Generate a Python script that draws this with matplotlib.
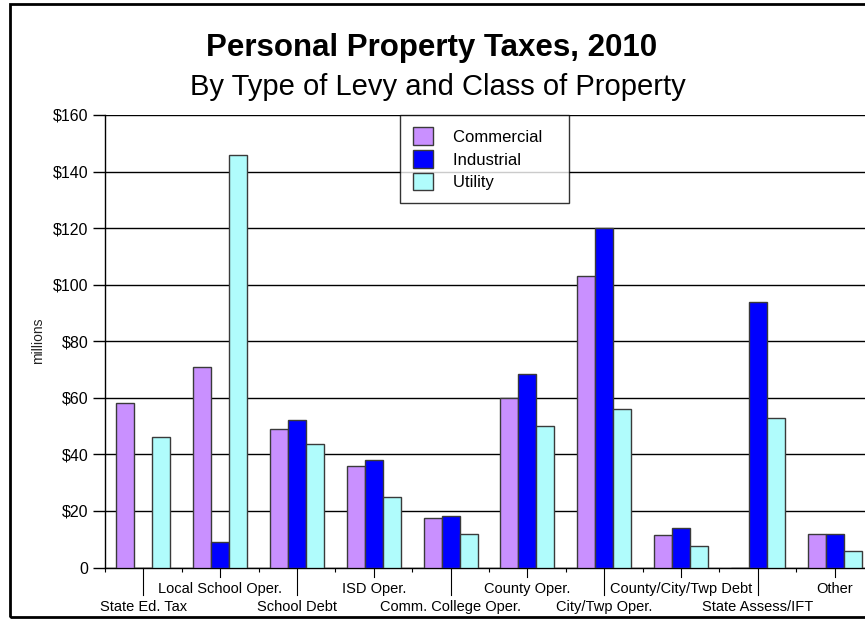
import matplotlib
matplotlib.use("Agg")
import matplotlib.pyplot as plt
import matplotlib.transforms as mtransforms
from matplotlib.patches import Rectangle
import numpy as np

plt.rcParams['font.family'] = ['Liberation Sans', 'DejaVu Sans']

categories = ["State Ed. Tax", "Local School Oper.", "School Debt", "ISD Oper.",
              "Comm. College Oper.", "County Oper.", "City/Twp Oper.",
              "County/City/Twp Debt", "State Assess/IFT", "Other"]
commercial = [58, 71, 49, 36, 17.5, 60, 103, 11.5, 0, 12]
industrial = [0, 9, 52, 38, 18.3, 68.5, 120, 14, 94, 12]
utility = [46, 146, 43.5, 25, 12, 50, 56, 7.7, 53, 5.7]
series_names = ["Commercial", "Industrial", "Utility"]
series_colors = ["#C990FF", "#0000FF", "#B0FCFC"]
yticks = [0, 20, 40, 60, 80, 100, 120, 140, 160]

W, H = 865, 620
fig = plt.figure(figsize=(W / 100, H / 100), dpi=100)

# Axes extends past the right edge (the reference is cropped there)
n_slots = 11
left_px, right_px, top_px, bot_px = 105, 105 + 76.8 * n_slots, 115, 567.5
ax = fig.add_axes([left_px / W, 1 - bot_px / H, (right_px - left_px) / W, (bot_px - top_px) / H])

x = np.arange(len(categories))
bw = 0.235
for i, (vals, col, name) in enumerate(zip([commercial, industrial, utility], series_colors, series_names)):
    ax.bar(x + (i - 1) * bw, vals, width=bw, color=col, edgecolor="#3a3a3a",
           linewidth=1.0, label=name + "   ", zorder=3)

ax.set_xlim(-0.5, n_slots - 0.5)
ax.set_ylim(0, 160)
ax.set_yticks(yticks)
ax.set_yticklabels(["0" if v == 0 else f"${v}" for v in yticks], fontsize=11.5)
ax.tick_params(axis='y', direction='out', length=9, width=1, pad=3)
ax.yaxis.grid(True, color='black', linewidth=1.0, zorder=0)
ax.set_axisbelow(True)
for s in ['top', 'right']:
    ax.spines[s].set_visible(False)
ax.spines['left'].set_linewidth(1.0)
ax.spines['bottom'].set_linewidth(1.0)
ax.set_ylabel("millions", fontsize=10, labelpad=5.5, color="#222222")

# x ticks: minor at category boundaries, labels staggered with leader lines
ax.set_xticks([])
ax.set_xticks(np.arange(-0.5, n_slots, 1.0), minor=True)
ax.tick_params(axis='x', which='minor', direction='out', length=3, width=0.8)
trans = mtransforms.blended_transform_factory(ax.transData, ax.transAxes)
ax_h = bot_px - top_px
for i, lab in enumerate(categories):
    if i % 2 == 0:
        ax.plot([i, i], [0, -27 / ax_h], transform=trans, color='black', lw=0.8, clip_on=False)
        ax.text(i, -39.5 / ax_h, lab, transform=trans, ha='center', va='center', fontsize=10.5)
    else:
        ax.plot([i, i], [0, -9 / ax_h], transform=trans, color='black', lw=0.8, clip_on=False)
        ax.text(i, -21.5 / ax_h, lab, transform=trans, ha='center', va='center', fontsize=10.5)

leg = ax.legend(loc='upper left', bbox_to_anchor=((400 - left_px) / (right_px - left_px), 1.0),
                prop={'size': 12}, frameon=True, fancybox=False, edgecolor='black',
                handlelength=1.25, handleheight=1.25, handletextpad=1.2, borderpad=0.75,
                labelspacing=0.3, borderaxespad=0.0)
leg.get_frame().set_linewidth(1.0)
leg.set_zorder(5)

fig.text(432 / W, 1 - 48 / H, "Personal Property Taxes, 2010", ha='center', va='center',
         fontsize=22.5, fontweight='bold')
fig.text(438 / W, 1 - 87 / H, "By Type of Levy and Class of Property", ha='center', va='center',
         fontsize=21)

# outer chart frame (cropped on the right)
fig.patches.append(Rectangle((10 / W, 1 - 617 / H), 1.2, (613 / H), transform=fig.transFigure,
                             fill=False, edgecolor='black', linewidth=2.0))

fig.savefig("out.png", dpi=100)
